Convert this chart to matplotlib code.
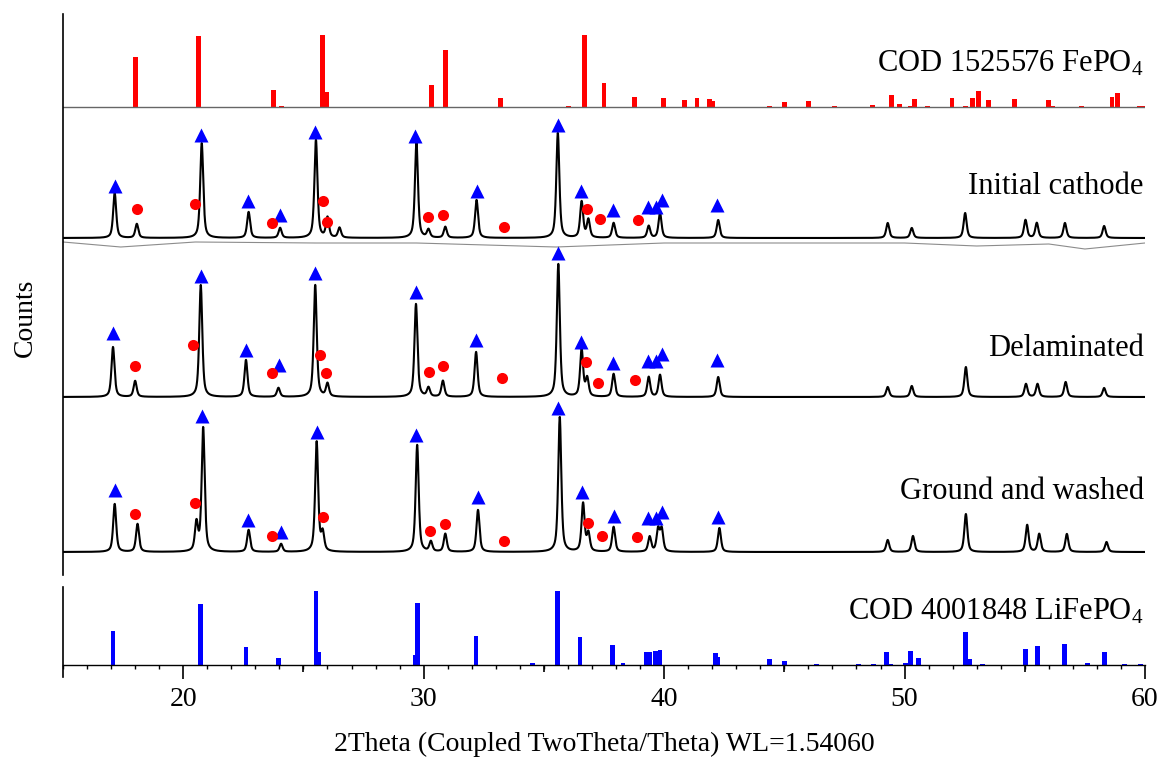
import numpy as np
import matplotlib
matplotlib.use("Agg")
from matplotlib import pyplot as plt

plt.rcParams['font.family'] = ['Liberation Serif', 'DejaVu Serif']
plt.rcParams['mathtext.fontset'] = 'custom'
plt.rcParams['mathtext.rm'] = 'Liberation Serif'
plt.rcParams['mathtext.it'] = 'Liberation Serif'

# --- reference patterns (relative intensity, 1 = strongest line) ---
fepo4_pos = [18.03, 20.65, 23.75, 24.1, 25.78, 25.96, 30.31, 30.9, 33.19, 36.04, 36.7, 37.5,
             38.78, 39.99, 40.85, 41.37, 41.9, 42.0, 44.38, 45.0, 45.99, 47.08, 48.68, 49.46,
             49.78, 50.25, 50.4, 50.96, 51.97, 52.55, 52.83, 53.07, 53.5, 54.58, 56.0, 56.15,
             57.37, 58.63, 58.86, 59.77, 59.9]
fepo4_int = [0.69, 0.98, 0.24, 0.02, 1.0, 0.21, 0.30, 0.79, 0.12, 0.02, 1.0, 0.33,
             0.14, 0.12, 0.10, 0.13, 0.11, 0.08, 0.02, 0.07, 0.08, 0.02, 0.03, 0.17,
             0.04, 0.02, 0.11, 0.02, 0.13, 0.02, 0.13, 0.22, 0.10, 0.11, 0.10, 0.02,
             0.02, 0.14, 0.20, 0.02, 0.02]

lifepo4_pos = [17.08, 20.73, 22.61, 23.97, 25.52, 25.62, 29.65, 29.73, 32.18, 34.52, 35.56,
               36.5, 37.87, 38.29, 39.28, 39.41, 39.64, 39.83, 42.15, 42.22, 44.38, 45.0,
               46.33, 48.1, 48.7, 49.24, 49.4, 50.04, 50.26, 50.58, 52.55, 52.71, 53.23,
               55.03, 55.53, 56.64, 57.61, 58.32, 59.15, 59.8]
lifepo4_int = [0.46, 0.82, 0.25, 0.10, 1.0, 0.18, 0.13, 0.84, 0.39, 0.03, 1.0,
               0.38, 0.27, 0.03, 0.17, 0.17, 0.19, 0.20, 0.16, 0.11, 0.08, 0.06,
               0.02, 0.01, 0.02, 0.18, 0.02, 0.03, 0.19, 0.09, 0.45, 0.08, 0.02,
               0.21, 0.26, 0.29, 0.03, 0.17, 0.02, 0.02]

# --- measured patterns: peak positions and heights above background ---
initial_pos = [17.15, 18.07, 20.77, 22.72, 24.03, 25.52, 26.0, 26.5, 29.7, 30.2, 30.9, 32.2,
               35.58, 36.57, 36.85, 37.9, 39.36, 39.83, 42.25, 49.3, 50.3, 52.52, 55.03,
               55.5, 56.67, 58.3]
initial_h = [45, 14, 95, 26, 10, 98, 20, 10, 95, 8, 11, 38,
             105, 36, 18, 15, 12, 25, 18, 15, 10, 25, 18,
             15, 15, 12]

delam_pos = [17.08, 18.0, 20.73, 22.61, 23.96, 25.49, 26.0, 29.68, 30.2, 30.8, 32.18,
             35.6, 36.57, 36.8, 37.9, 39.36, 39.83, 42.25, 49.3, 50.3, 52.55, 55.05,
             55.53, 56.7, 58.3]
delam_h = [50, 16, 112, 37, 9, 112, 13, 93, 9, 16, 45,
           133, 47, 18, 23, 20, 22, 20, 10, 11, 30, 13,
           13, 15, 9]

ground_pos = [17.15, 18.1, 20.55, 20.83, 22.72, 24.07, 25.55, 25.8, 29.73, 30.3, 30.9,
              32.26, 35.66, 36.63, 36.85, 37.9, 39.4, 39.75, 39.9, 42.3, 49.3, 50.35,
              52.55, 55.1, 55.6, 56.75, 58.4]
ground_h = [48, 28, 28, 124, 22, 8, 110, 18, 107, 10, 18,
            42, 135, 48, 18, 25, 15, 22, 22, 24, 12, 16,
            38, 27, 18, 18, 10]

# background line drawn under the initial cathode pattern (offset from its baseline)
bg_pos = [15, 17.4, 20.5, 25.5, 29.7, 35.5, 40, 46, 50, 53, 56, 57.5, 60]
bg_val = [-4, -9, -4, -5, -5, -9, -5, -5, -5, -8, -6, -11, -5]

# --- phase markers (height above each pattern's baseline) ---
tri_pos_initial = [17.16, 20.74, 22.70, 24.03, 25.50, 29.66, 32.22, 35.57, 36.55, 37.88, 39.34, 39.68, 39.92, 42.2]
tri_h_initial = [52, 103, 37, 23, 106, 102, 47, 113, 47, 28, 31, 31, 38, 33]
dot_pos_initial = [18.08, 20.49, 23.69, 25.82, 25.99, 30.18, 30.81, 33.35, 36.8, 37.34, 38.92]
dot_h_initial = [29, 34, 15, 37, 16, 21, 23, 11, 29, 19, 18]

tri_pos_delam = [17.08, 20.73, 22.62, 24.0, 25.5, 29.68, 32.18, 35.58, 36.55, 37.88, 39.34, 39.68, 39.9, 42.18]
tri_h_delam = [64, 121, 47, 32, 124, 105, 57, 144, 55, 34, 36, 36, 43, 37]
dot_pos_delam = [18.0, 20.41, 23.68, 25.69, 25.94, 30.21, 30.81, 33.25, 36.74, 37.23, 38.8]
dot_h_delam = [31, 52, 24, 42, 24, 25, 31, 19, 35, 14, 17]

tri_pos_ground = [17.17, 20.8, 22.7, 24.05, 25.55, 29.7, 32.25, 35.6, 36.6, 37.9, 39.35, 39.65, 39.9, 42.25]
tri_h_ground = [62, 136, 32, 20, 120, 117, 55, 144, 60, 36, 34, 34, 40, 35]
dot_pos_ground = [18.0, 20.49, 23.71, 25.8, 30.25, 30.87, 33.35, 36.82, 37.42, 38.88]
dot_h_ground = [38, 49, 16, 35, 21, 28, 11, 29, 16, 15]

labels = ['COD 1525576 FePO$_4$', 'Initial cathode', 'Delaminated',
          'Ground and washed', 'COD 4001848 LiFePO$_4$']

# vertical layout (axis units ~ pixels from the bottom axis)
base_fepo4 = 558
base_initial = 427
base_delam = 268
base_ground = 113
base_lifepo4 = 0
stick_scale = 72
stick_scale_li = 74

x = np.linspace(15, 60, 6001)


def profile(pos, h, fwhm=0.15, eta=0.6):
    # pseudo-Voigt peak shape
    y = np.zeros_like(x)
    hw = fwhm / 2
    for p, a in zip(pos, h):
        d = (x - p) / hw
        y += a * (eta / (1 + d ** 2) + (1 - eta) * np.exp(-np.log(2) * d ** 2))
    return y


fig = plt.figure(figsize=(11.71, 7.58), dpi=100)
ax = fig.add_axes([63 / 1171, 1 - 665 / 758, (1145 - 63) / 1171, (665 - 14) / 758])
ax.set_xlim(15, 60)
ax.set_ylim(0, 651)

# reference sticks
ax.bar(fepo4_pos, np.array(fepo4_int) * stick_scale, width=0.2, bottom=base_fepo4,
       color='#ff0000', linewidth=0)
ax.plot([15, 60], [base_fepo4, base_fepo4], color='0.4', lw=1)
ax.bar(lifepo4_pos, np.array(lifepo4_int) * stick_scale_li, width=0.2, bottom=base_lifepo4,
       color='#0000ff', linewidth=0)

# measured patterns
ax.plot(bg_pos, base_initial + np.array(bg_val), color='0.55', lw=0.8)
for pos, h, base in [(initial_pos, initial_h, base_initial),
                     (delam_pos, delam_h, base_delam),
                     (ground_pos, ground_h, base_ground)]:
    ax.plot(x, base + profile(pos, h), color='black', lw=1.5)

# phase markers
for tp, th, dp, dh, base in [(tri_pos_initial, tri_h_initial, dot_pos_initial, dot_h_initial, base_initial),
                             (tri_pos_delam, tri_h_delam, dot_pos_delam, dot_h_delam, base_delam),
                             (tri_pos_ground, tri_h_ground, dot_pos_ground, dot_h_ground, base_ground)]:
    ax.plot(tp, base + np.array(th), ls='none', marker='^', ms=10, color='#0000ff', mec='none')
    ax.plot(dp, base + np.array(dh), ls='none', marker='o', ms=8, color='#ff0000', mec='none')

# panel labels
label_y = [593, 471, 309, 166, 45]
for text, ly in zip(labels, label_y):
    ax.text(59.95, ly, text, ha='right', va='baseline', fontsize=22)

# axes styling
for side in ['top', 'right', 'left']:
    ax.spines[side].set_visible(False)
ax.spines['bottom'].set_linewidth(1)
ax.plot([15, 15], [90, 651], color='black', lw=1.2, clip_on=False)
ax.plot([15, 15], [-12, 78], color='black', lw=1.2, clip_on=False)
ax.set_yticks([])
ax.set_xticks([20, 30, 40, 50, 60])
ax.set_xticks(np.arange(15, 61, 1), minor=True)
ax.tick_params(axis='x', which='major', direction='out', length=10, width=1.2, labelsize=20, pad=6)
ax.tick_params(axis='x', which='minor', direction='out', length=3, width=1)
ax.vlines([25, 35, 45, 55], -7, 0, color='black', lw=1.2, clip_on=False)
ax.set_xlabel('2Theta (Coupled TwoTheta/Theta) WL=1.54060', fontsize=20, labelpad=14)
fig.text(25 / 1171, 1 - 318 / 758, 'Counts', rotation=90, ha='center', va='center', fontsize=20)

fig.savefig('out.png', dpi=100)
